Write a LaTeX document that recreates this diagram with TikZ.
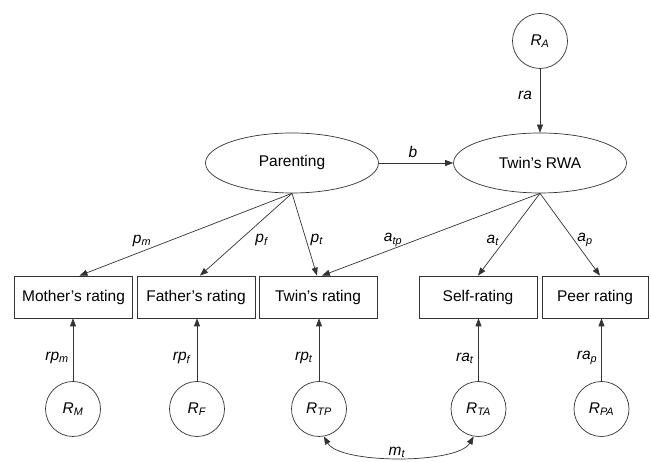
\documentclass[tikz,border=0pt]{standalone}
\usepackage{fontspec}
\setmainfont{Liberation Sans}
\usepackage{tikz}
\usetikzlibrary{shapes.geometric, arrows.meta}
\newcommand{\lbl}[2]{\textit{#1}\textsubscript{\textit{#2}}}

\begin{document}
\begin{tikzpicture}[x=1pt, y=1pt, font=\fontsize{15.5}{18}\selectfont,
    latent/.style={ellipse, draw=black!80, line width=0.7pt, minimum width=173pt, minimum height=60pt, inner sep=0pt},
    measure/.style={rectangle, draw=black!80, line width=0.7pt, minimum width=118pt, minimum height=42pt, inner sep=0pt},
    resid/.style={circle, draw=black!80, line width=0.7pt, minimum size=55pt, inner sep=0pt},
    link/.style={draw=black!80, line width=0.7pt, -{Triangle[length=8pt, width=6pt]}}]
            \useasboundingbox (0,0) rectangle (651,462);
            % latent variables
            \node[latent] (par) at (292,299) {Parenting};
            \node[latent] (rwa) at (540,299) {Twin's RWA};
            \node[resid] (RA) at (540,421) {\lbl{R}{A}};
            % observed ratings
            \node[measure] (mom) at (73.5,165) {Mother's rating};
            \node[measure] (dad) at (196,165) {Father's rating};
            \node[measure] (twin) at (318,165) {Twin's rating};
            \node[measure] (self) at (478,165) {Self-rating};
            \node[measure, minimum width=106pt] (peer) at (595,165) {Peer rating};
            % residuals
            \node[resid] (RM) at (73,53) {\lbl{R}{M}};
            \node[resid] (RF) at (197,53) {\lbl{R}{F}};
            \node[resid] (RTP) at (319,53) {\lbl{R}{TP}};
            \node[resid] (RTA) at (478.5,53) {\lbl{R}{TA}};
            \node[resid] (RPA) at (601.5,53) {\lbl{R}{PA}};
            % paths
            \draw[link] (RA) -- (rwa);
            \draw[link] (par) -- (rwa);
            \draw[link] (par.south) -- ([xshift=6pt]mom.north);
            \draw[link] (par.south) -- ([xshift=4pt]dad.north);
            \draw[link] (par.south) -- ([xshift=-1pt]twin.north);
            \draw[link] (rwa.south) -- ([xshift=4pt]twin.north);
            \draw[link] (rwa.south) -- (self.north);
            \draw[link] (rwa.south) -- ([xshift=5pt]peer.north);
            \draw[link] (RM) -- (RM |- mom.south);
            \draw[link] (RF) -- (RF |- dad.south);
            \draw[link] (RTP) -- (RTP |- twin.south);
            \draw[link] (RTA) -- (RTA |- self.south);
            \draw[link] (RPA) -- (RPA |- peer.south);
            \draw[link, {Triangle[length=8pt, width=6pt]}-{Triangle[length=8pt, width=6pt]}] (RTP.-80) to[out=-60, in=-120, looseness=0.55] (RTA.-100);
            % labels
            \node (lb) at (413,310) {\textit{b}};
            \node (lra) at (525,367) {\textit{ra}};
            \node (lpm) at (142,221) {\lbl{p}{m}};
            \node (lpf) at (262,222) {\lbl{p}{f}};
            \node (lpt) at (317,222) {\lbl{p}{t}};
            \node (latp) at (393,222) {\lbl{a}{tp}};
            \node (lat) at (493,222) {\lbl{a}{t}};
            \node (lap) at (585,222) {\lbl{a}{p}};
            \node (lrpm) at (57,104) {\lbl{rp}{m}};
            \node (lrpf) at (182,104) {\lbl{rp}{f}};
            \node (lrpt) at (304,104) {\lbl{rp}{t}};
            \node (lrat) at (465,104) {\lbl{ra}{t}};
            \node (lrap) at (587,104) {\lbl{ra}{p}};
            \node (lmt) at (397,10) {\lbl{m}{t}};
        \end{tikzpicture}
\end{document}
